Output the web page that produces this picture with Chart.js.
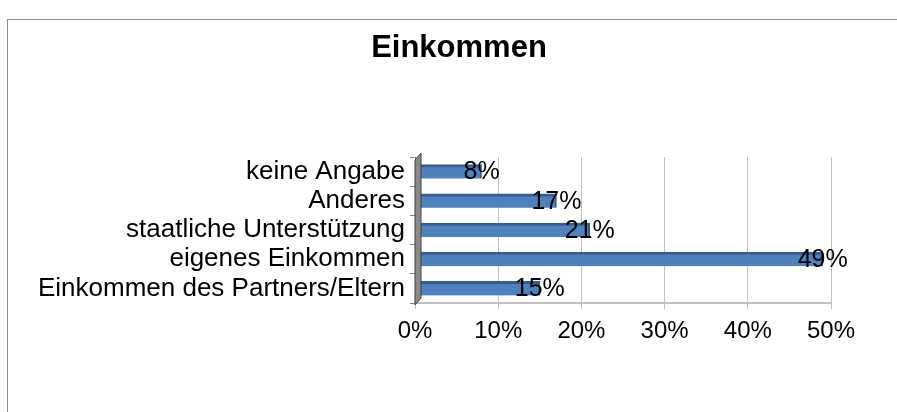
<!DOCTYPE html>
<html>
<head>
<meta charset="utf-8">
<script src="https://cdn.jsdelivr.net/npm/chart.js@4"></script>
<style>
  body { margin: 0; background: #fff; }
  #wrap { width: 897px; height: 412px; }
</style>
</head>
<body>
<div id="wrap"><canvas id="einkommen" width="897" height="412"></canvas></div>
<script>
const categories = ['keine Angabe', 'Anderes', 'staatliche Unterstützung', 'eigenes Einkommen', 'Einkommen des Partners/Eltern'];
const values = [8, 17, 21, 49, 15];
const tickLabels = ['0%', '10%', '20%', '30%', '40%', '50%'];
const title = 'Einkommen';

const FONT = "'Liberation Sans', Arial, sans-serif";

// outer frame, title and the 3d wall on the left
const frame = {
  id: 'frame',
  beforeDraw(chart) {
    const c = chart.ctx;
    c.save();
    c.strokeStyle = '#8c8c8c';
    c.lineWidth = 1;
    c.strokeRect(7.5, 19.5, 1000, 1000);
    c.font = 'bold 31px ' + FONT;
    c.fillStyle = '#000';
    c.textAlign = 'center';
    c.textBaseline = 'middle';
    c.fillText(title, 459, 48);
    c.restore();
  },
  afterDatasetsDraw(chart) {
    const c = chart.ctx;
    const a = chart.chartArea;
    c.save();
    c.fillStyle = '#8a8a8a';
    c.strokeStyle = '#404040';
    c.lineWidth = 1;
    c.beginPath();
    c.moveTo(a.left, a.top + 3);
    c.lineTo(a.left + 6, a.top - 4);
    c.lineTo(a.left + 6, a.bottom - 5);
    c.lineTo(a.left, a.bottom + 2);
    c.closePath();
    c.fill();
    c.stroke();
    c.restore();
  }
};

// value labels at the end of each bar
const valueLabels = {
  id: 'valueLabels',
  afterDraw(chart) {
    const c = chart.ctx;
    const meta = chart.getDatasetMeta(0);
    c.save();
    c.font = '25px ' + FONT;
    c.fillStyle = '#000';
    c.textAlign = 'center';
    c.textBaseline = 'middle';
    meta.data.forEach((bar, i) => {
      c.fillText(values[i] + '%', bar.x, bar.y + 1);
    });
    c.restore();
  }
};

new Chart(document.getElementById('einkommen'), {
  type: 'bar',
  data: {
    labels: categories,
    datasets: [{
      data: values,
      backgroundColor: '#4f81bd',
      borderColor: '#385d8a',
      borderWidth: { top: 3, right: 2, bottom: 0, left: 0 },
      borderSkipped: false,
      barThickness: 14
    }]
  },
  plugins: [frame, valueLabels],
  options: {
    indexAxis: 'y',
    responsive: false,
    animation: false,
    layout: { padding: { left: 0, right: 66, top: 157, bottom: 0 } },
    plugins: {
      legend: { display: false },
      tooltip: { enabled: false },
      title: { display: false }
    },
    scales: {
      x: {
        min: 0,
        max: 50,
        afterFit(scale) { scale.height = 109; },
        ticks: {
          stepSize: 10,
          color: '#000',
          padding: 8,
          font: { family: FONT, size: 24 },
          callback: (v, i) => tickLabels[i]
        },
        grid: { color: '#c0c0c0', tickLength: 6 },
        border: { color: '#bfbfbf', width: 2 }
      },
      y: {
        afterFit(scale) { scale.width = 415; },
        ticks: {
          autoSkip: false,
          color: '#000',
          padding: 5,
          font: { family: FONT, size: 26 }
        },
        grid: { drawOnChartArea: false, tickLength: 5, color: '#808080', offset: true },
        border: { color: '#808080', width: 1 }
      }
    }
  }
});
</script>
</body>
</html>
